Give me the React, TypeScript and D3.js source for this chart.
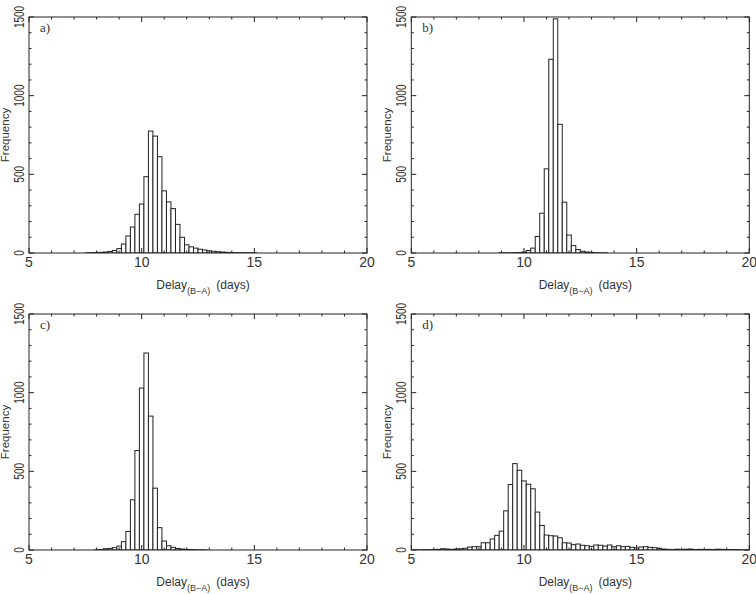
import React from 'react';
import * as d3 from 'd3';

// histogram counts, bins 0.2 days wide; binStart is the centre of the first bin
const binWidth = 0.2;

const binStartA = 7.6;
const countsA = [1, 2, 3, 4, 6, 10, 16, 28, 57, 108, 165, 246, 311, 485, 775, 743, 612, 395, 325, 282,
    182, 100, 52, 39, 31, 24, 19, 14, 11, 8, 6, 4, 3, 2, 2, 1, 1, 1];

const binStartB = 9.0;
const countsB = [1, 1, 1, 2, 3, 6, 16, 31, 105, 253, 535, 1231, 1488, 818, 323, 114, 47, 22, 11, 6,
    4, 2, 1, 1];

const binStartC = 8.0;
const countsC = [1, 3, 8, 10, 15, 25, 53, 118, 319, 632, 1029, 1252, 851, 393, 142, 57, 27, 17, 10, 6,
    4, 3, 2, 1, 1];

const binStartD = 5.2;
const countsD = [1, 1, 2, 2, 2, 4, 8, 6, 4, 6, 8, 11, 19, 21, 21, 46, 46, 70, 93, 120,
    249, 416, 549, 507, 439, 418, 389, 241, 156, 95, 91, 89, 78, 46, 44, 34, 38, 30, 27, 23,
    32, 30, 25, 32, 21, 27, 21, 23, 17, 13, 19, 21, 17, 15, 11, 6, 4, 3, 5, 3,
    5, 6, 3, 4, 3, 4, 3, 5, 4, 3, 2, 3, 2, 1];

const panelLetters = ['a)', 'b)', 'c)', 'd)'];
const xDomain = [5, 20];
const yDomain = [0, 1500];

const boxW = 338;
const boxH = 236;
const ink = '#222';
const sans = "'Liberation Sans', Arial, sans-serif";

const Panel = ({left, top, letter, start, counts}) => {
    const x = d3.scaleLinear().domain(xDomain).range([left, left + boxW]);
    const y = d3.scaleLinear().domain(yDomain).range([top + boxH, top]);
    const bottom = top + boxH;
    const right = left + boxW;

    const bins = counts.map((v, i) => ({c: start + i * binWidth, v}));
    const xMajor = x.ticks(4);
    const xMinor = x.ticks(15);
    const yMajor = y.ticks(3);
    const yMinor = y.ticks(15);
    const clipId = 'clip-' + letter[0];

    return (
        <g>
            <clipPath id={clipId}>
                <rect x={left} y={top} width={boxW} height={boxH}/>
            </clipPath>
            <g clipPath={`url(#${clipId})`}>
                {bins.map((b, i) => (
                    <rect key={i}
                          x={x(b.c - binWidth / 2)}
                          y={y(b.v)}
                          width={x(b.c + binWidth / 2) - x(b.c - binWidth / 2)}
                          height={y(0) - y(b.v)}
                          fill="white" stroke={ink} strokeWidth={1}/>
                ))}
            </g>
            <rect x={left} y={top} width={boxW} height={boxH} fill="none" stroke={ink} strokeWidth={1}/>
            {xMinor.map(t => {
                const len = xMajor.includes(t) ? 5 : 2.5;
                return (
                    <g key={'x' + t}>
                        <line x1={x(t)} x2={x(t)} y1={bottom} y2={bottom - len} stroke={ink}/>
                        <line x1={x(t)} x2={x(t)} y1={top} y2={top + len} stroke={ink}/>
                    </g>
                );
            })}
            {yMinor.map(t => {
                const len = yMajor.includes(t) ? 5 : 2.5;
                return (
                    <g key={'y' + t}>
                        <line x1={left} x2={left + len} y1={y(t)} y2={y(t)} stroke={ink}/>
                        <line x1={right} x2={right - len} y1={y(t)} y2={y(t)} stroke={ink}/>
                    </g>
                );
            })}
            {xMajor.map(t => (
                <text key={'xl' + t} x={x(t)} y={bottom + 14} textAnchor="middle"
                      fontSize={14} fontFamily={sans} fill="#333">{t}</text>
            ))}
            {yMajor.map(t => (
                <text key={'yl' + t} textAnchor="middle"
                      transform={`translate(${left - 5},${y(t)}) rotate(-90) scale(1,1.45)`}
                      fontSize={10} fontFamily={sans} fill="#333">{t}</text>
            ))}
            <text textAnchor="middle" transform={`translate(${left - 20},${(top + bottom) / 2}) rotate(-90)`}
                  fontSize={11.5} fontFamily={sans} fill="#333">Frequency</text>
            <text x={(left + right) / 2 + 5} y={bottom + 36} textAnchor="middle"
                  fontSize={12} fontFamily={sans} fill="#333">
                Delay<tspan fontSize={9} dy={5}>(B−A)</tspan><tspan dx={6} dy={-5}>(days)</tspan>
            </text>
            <text x={left + 11} y={top + 15} fontSize={13}
                  fontFamily="'Liberation Serif', 'DejaVu Serif', serif" fill="#333">{letter}</text>
        </g>
    );
};

export default function App() {
    const panels = [
        {left: 29, top: 17, start: binStartA, counts: countsA},
        {left: 411.3, top: 17, start: binStartB, counts: countsB},
        {left: 29, top: 314, start: binStartC, counts: countsC},
        {left: 411.3, top: 314, start: binStartD, counts: countsD},
    ];
    return (
        <svg width={756} height={594} style={{position: 'absolute', left: 0, top: 0, background: 'white'}}>
            {panels.map((p, i) => (
                <Panel key={i} {...p} letter={panelLetters[i]}/>
            ))}
        </svg>
    );
}
